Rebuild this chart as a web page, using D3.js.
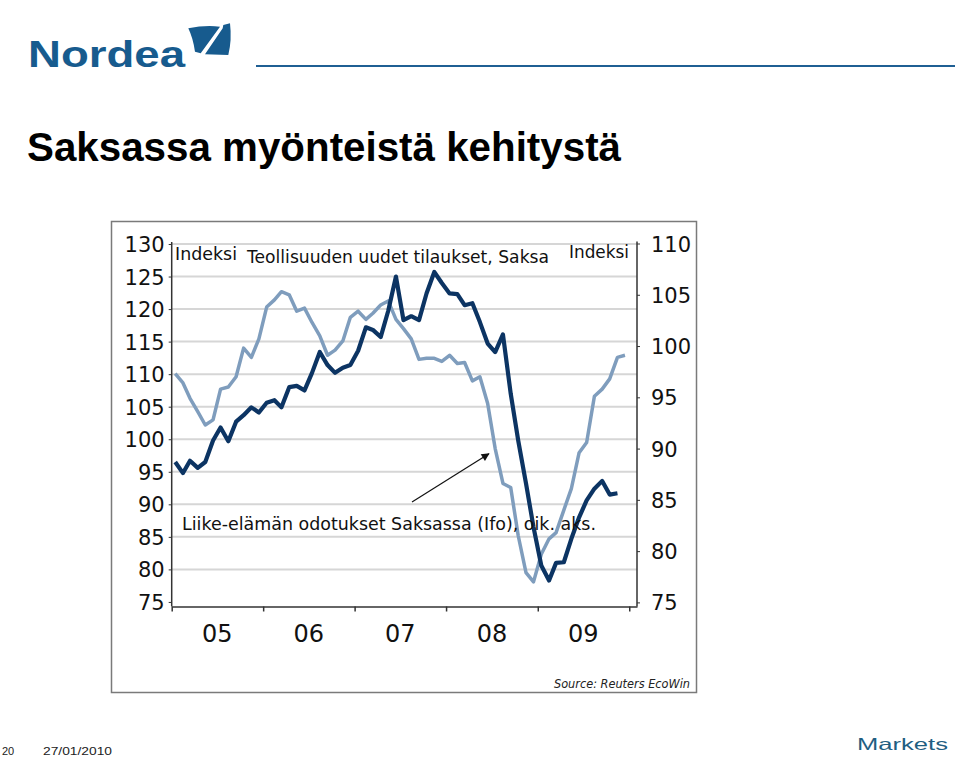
<!DOCTYPE html>
<html><head><meta charset="utf-8">
<script src="https://cdn.jsdelivr.net/npm/d3@7"></script>
<style>
html,body{margin:0;padding:0;background:#fff;}
svg{display:block;}
</style>
</head><body>
<svg id="c" width="959" height="784"></svg>
<script>
// ---------- DATA ----------
const startYear = 2005;
// Teollisuuden uudet tilaukset (left axis), monthly Jan 2005 – Nov 2009
const ordersValues = [96.5,94.8,96.7,95.6,96.5,99.8,101.8,99.7,102.7,103.7,104.9,104.1,
  105.6,106.0,104.9,108.0,108.2,107.5,110.2,113.4,111.4,110.2,111.0,111.4,
  113.6,117.2,116.8,115.7,119.7,125.0,118.3,118.9,118.3,122.4,125.7,124.0,
  122.4,122.3,120.6,120.9,118.0,114.7,113.4,116.1,107.0,99.8,93.2,86.5,
  80.6,78.3,81.0,81.1,84.7,88.0,90.6,92.4,93.6,91.5,91.7];
// Ifo (right axis), monthly Jan 2005 – Dec 2009
const ifoValues = [97.3,96.4,94.9,93.6,92.3,92.8,95.8,96.0,97.0,99.8,98.9,100.7,
  103.8,104.5,105.3,105.0,103.4,103.7,102.3,101.0,99.1,99.6,100.5,102.8,
  103.4,102.6,103.2,104.0,104.4,102.6,101.7,100.7,98.7,98.8,98.8,98.5,
  99.1,98.3,98.4,96.6,97.0,94.4,90.0,86.6,86.2,81.5,77.9,77.0,
  79.7,81.2,81.8,84.0,86.1,89.6,90.6,95.1,95.8,96.8,98.9,99.1];
const leftTicks = [75,80,85,90,95,100,105,110,115,120,125,130];
const rightTicks = [75,80,85,90,95,100,105,110];
const yearLabels = ["05","06","07","08","09"];
const yearStarts = [2005,2006,2007,2008,2009,2010];
// annotation arrow (date, right-axis value)
const arrowFrom = [new Date(2007,7,18), 84.8];
const arrowTo = [new Date(2008,5,20), 89.5];

// ---------- CHART ----------
const svg = d3.select("#c");
const FONT = "'DejaVu Sans', Verdana, sans-serif";

const x = d3.scaleTime().domain([new Date(2005,0,1), new Date(2010,1,1)]).range([171.7, 637]);
const yL = d3.scaleLinear().domain([74.3,130]).range([606.5,244]);
const yR = d3.scaleLinear().domain([74.6,110]).range([606.5,243.5]);
const monthDate = i => new Date(startYear, i, 15);

// header
svg.append("text").attr("x",28).attr("y",66.5).text("Nordea")
  .attr("font-family","'Liberation Sans', Arial, sans-serif").attr("font-weight","bold")
  .attr("font-size",37).attr("fill","#175b8e").attr("textLength",157).attr("lengthAdjust","spacingAndGlyphs");
svg.append("path").attr("d","M188.3,28.3 Q205,25 220,26.7 L200.7,53.3 L195,51.7 Q193,38 188.3,28.3 Z").attr("fill","#175b8e");
svg.append("path").attr("d","M223.3,25 L230,23.3 Q232,40 228.3,55 L205,54.3 L222.7,28.3 Z").attr("fill","#175b8e");
svg.append("line").attr("x1",256).attr("x2",955).attr("y1",66).attr("y2",66)
  .attr("stroke","#1f5f93").attr("stroke-width",2);

svg.append("text").attr("x",27).attr("y",161).text("Saksassa myönteistä kehitystä")
  .attr("font-family","'Liberation Sans', Arial, sans-serif").attr("font-weight","bold")
  .attr("font-size",40).attr("fill","#000").attr("textLength",594).attr("lengthAdjust","spacingAndGlyphs");

// frame
svg.append("rect").attr("x",111.5).attr("y",221.5).attr("width",585).attr("height",471)
  .attr("fill","none").attr("stroke","#7a7a7a").attr("stroke-width",1.5);

// gridlines
svg.append("g").selectAll("line").data(leftTicks.slice(1)).join("line")
  .attr("x1",x.range()[0]).attr("x2",x.range()[1])
  .attr("y1",d=>yL(d)).attr("y2",d=>yL(d))
  .attr("stroke","#d6d6d6").attr("stroke-width",2);

// left axis
const gL = svg.append("g").attr("transform",`translate(${x.range()[0]},0)`)
  .call(d3.axisLeft(yL).tickValues(leftTicks).tickSize(3).tickPadding(4).tickSizeOuter(0));
gL.select(".domain").attr("stroke","#333").attr("stroke-width",1.5).attr("d",`M0,${yL.range()[0]}V${yL.range()[1]-2}`);
gL.selectAll(".tick line").attr("stroke","#333");
gL.selectAll("text").attr("font-family",FONT).attr("font-size",21).attr("fill","#111").attr("dy","0.36em");

// right axis
const gR = svg.append("g").attr("transform",`translate(${x.range()[1]},0)`)
  .call(d3.axisRight(yR).tickValues(rightTicks).tickSize(3).tickPadding(11).tickSizeOuter(0));
gR.select(".domain").attr("stroke","#333").attr("stroke-width",1.5).attr("d",`M0,${yR.range()[0]}V${yR.range()[1]-2}`);
gR.selectAll(".tick line").attr("stroke","#333");
gR.selectAll("text").attr("font-family",FONT).attr("font-size",21).attr("fill","#111").attr("dy","0.36em");

// bottom axis
const gB = svg.append("g").attr("transform",`translate(0,${yL.range()[0]})`)
  .call(d3.axisBottom(x).tickValues(yearStarts.map(y=>new Date(y,0,1))).tickSize(5).tickFormat("").tickSizeOuter(0));
gB.select(".domain").attr("stroke","#333").attr("stroke-width",1.5);
gB.selectAll(".tick line").attr("stroke","#333").attr("stroke-width",1.5);
svg.append("g").selectAll("text").data(yearLabels).join("text")
  .attr("x",(d,i)=>x(new Date(yearStarts[i],6,2)))
  .attr("y",642).attr("text-anchor","middle")
  .attr("font-family",FONT).attr("font-size",24).attr("fill","#111").text(d=>d);

// lines
const lineL = d3.line().x((d,i)=>x(monthDate(i))).y(d=>yL(d));
const lineR = d3.line().x((d,i)=>x(monthDate(i))).y(d=>yR(d));
svg.append("path").datum(ifoValues).attr("d",lineR).attr("fill","none")
  .attr("stroke","#7f9dbd").attr("stroke-width",3.5).attr("stroke-linejoin","round");
svg.append("path").datum(ordersValues).attr("d",lineL).attr("fill","none")
  .attr("stroke","#0c3463").attr("stroke-width",4.2).attr("stroke-linejoin","round");

// texts in plot
const txt = (s,xx,yy,size,len,anchor) => svg.append("text").attr("x",xx).attr("y",yy).text(s)
  .attr("font-family",FONT).attr("font-size",size).attr("fill","#111")
  .attr("textLength",len).attr("lengthAdjust","spacingAndGlyphs").attr("text-anchor",anchor||"start");
txt("Indeksi",175,259.5,17,62);
txt("Teollisuuden uudet tilaukset, Saksa",247,262.5,17.5,302);
txt("Indeksi",569,258,17,60);
txt("Liike-elämän odotukset Saksassa (Ifo), oik. aks.",182,529.5,18,414);

// arrow
svg.append("defs").append("marker").attr("id","ah").attr("viewBox","0 0 10 10")
  .attr("refX",9).attr("refY",5).attr("markerWidth",12).attr("markerHeight",8)
  .attr("markerUnits","userSpaceOnUse").attr("orient","auto")
  .append("path").attr("d","M0,0 L10,5 L0,10 Z").attr("fill","#111");
svg.append("line").attr("x1",x(arrowFrom[0])).attr("y1",yR(arrowFrom[1]))
  .attr("x2",x(arrowTo[0])).attr("y2",yR(arrowTo[1]))
  .attr("stroke","#111").attr("stroke-width",1.2).attr("marker-end","url(#ah)");

// source
svg.append("text").attr("x",554).attr("y",688).text("Source: Reuters EcoWin")
  .attr("font-family",FONT).attr("font-style","italic").attr("font-size",12).attr("fill","#222")
  .attr("textLength",136).attr("lengthAdjust","spacingAndGlyphs");

// footer
const AR = "'Liberation Sans', Arial, sans-serif";
svg.append("text").attr("x",2).attr("y",755).text("20").attr("font-family",AR).attr("font-size",11).attr("fill","#222");
svg.append("text").attr("x",43).attr("y",755).text("27/01/2010").attr("font-family",AR).attr("font-size",11).attr("fill","#222")
  .attr("textLength",69).attr("lengthAdjust","spacingAndGlyphs");
svg.append("text").attr("x",857).attr("y",750).text("Markets").attr("font-family",AR).attr("font-size",16.5).attr("fill","#1f5e82")
  .attr("textLength",91).attr("lengthAdjust","spacingAndGlyphs");
</script>
</body></html>
